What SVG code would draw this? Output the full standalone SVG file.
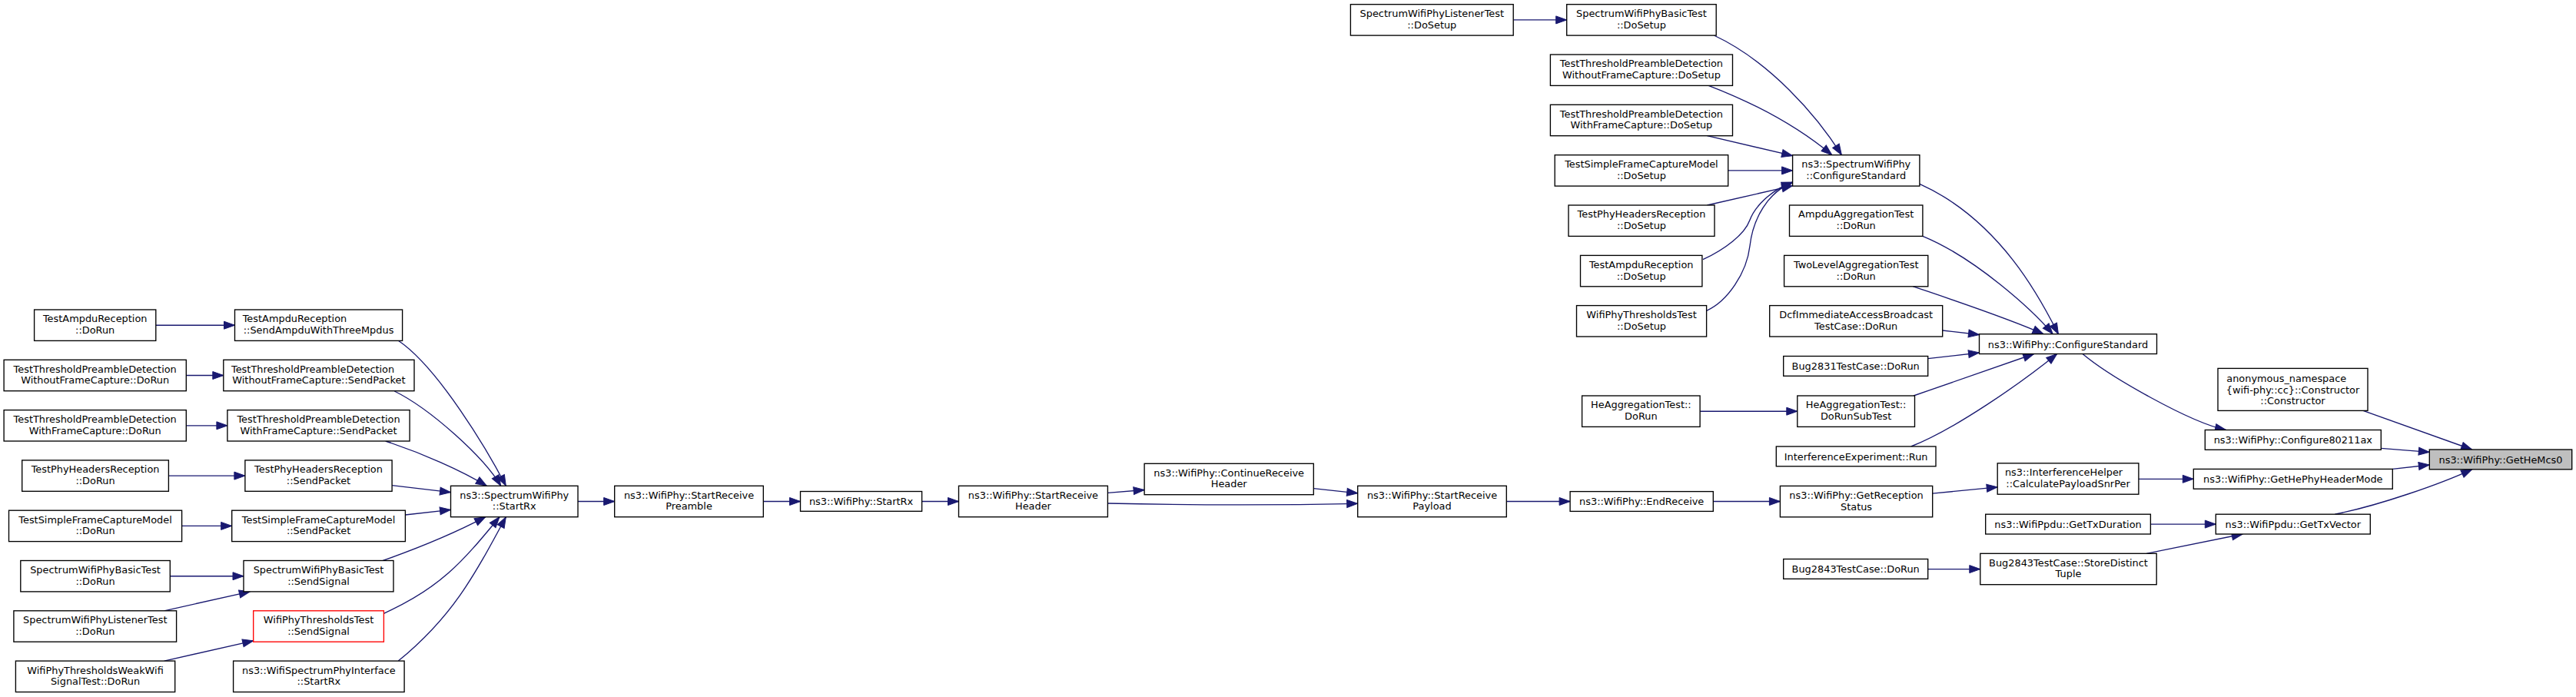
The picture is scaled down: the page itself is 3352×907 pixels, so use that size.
<svg xmlns="http://www.w3.org/2000/svg" width="3352" height="907" viewBox="0 0 3352 907">
<style>
.n rect{fill:#fff;stroke:#000;stroke-width:1.35}
.n text{font-family:"DejaVu Sans",sans-serif;font-size:12.9px;fill:#000;text-anchor:middle}
.n text.l{text-anchor:start}
#n15 rect{stroke:#f00}
#n27 rect{fill:#bfbfbf}
.e path{fill:none;stroke:#191970;stroke-width:1.35;marker-end:url(#ah)}
</style>
<defs>
<marker id="ah" markerUnits="userSpaceOnUse" markerWidth="16" markerHeight="12" viewBox="-1 -1 16 12" refX="14" refY="5" orient="auto">
<path d="M0,0 L14,5 L0,10 z" fill="#191970" stroke="#191970" stroke-width="1"/>
</marker>
</defs>
<rect width="3352" height="907" fill="#fff"/>
<g id="edges" class="e">
<path d="M202.8,423.2 L305.5,423.2"/>
<path d="M242.3,488.5 L290.8,488.5"/>
<path d="M242.3,553.8 L295.9,553.8"/>
<path d="M219.4,619.1 L318.9,619.1"/>
<path d="M236.6,684.4 L301.7,684.4"/>
<path d="M221.3,749.7 L317,749.7"/>
<path d="M213.7,794.8 L325.3,769.9"/>
<path d="M213.7,860.1 L329.7,833.8"/>
<path d="M518.3,443.3 C570,478 635,587 658.3,632.3"/>
<path d="M513.3,509 C560,532 630,595 651.7,632.3"/>
<path d="M501.7,574 C550,590 600,612 633.3,632.3"/>
<path d="M510.1,631.7 L586.5,640.7"/>
<path d="M527.4,670 L586.5,663.3"/>
<path d="M498.3,729.5 C545,713 595,692 631.7,672.7"/>
<path d="M499.4,798.3 C572.8,764.7 599.6,733.9 650,672.7"/>
<path d="M518.3,860.1 C588,803.1 616,751.5 658.3,672.7"/>
<path d="M752,652.5 L799.7,652.5"/>
<path d="M993.3,652.5 L1041.5,652.5"/>
<path d="M1199.6,652.5 L1247.5,652.5"/>
<path d="M1441.4,641.3 L1489.1,637.5"/>
<path d="M1441.4,655 C1560,657.5 1660,657.5 1766.7,655.3"/>
<path d="M1709.3,635.7 L1766.7,641.8"/>
<path d="M1960.3,652.5 L2043.1,652.5"/>
<path d="M2229.3,652.5 L2316.4,652.5"/>
<path d="M2514.7,642.2 L2599.2,633.8"/>
<path d="M2782.9,623.3 L2854.3,623.3"/>
<path d="M3113.3,610.4 L3161.3,605"/>
<path d="M3098.3,583.3 L3161.3,588.3"/>
<path d="M3075,534.4 L3216.7,585"/>
<path d="M3038.3,669.2 C3095,658 3175,630 3216.7,610.8"/>
<path d="M2710,460.5 C2745,490 2850,550 2896.5,559.5"/>
<path d="M2798.4,682.1 L2883.3,682.1"/>
<path d="M2793.2,720.3 L2918.2,695"/>
<path d="M2508.7,740.6 L2576.8,740.6"/>
<path d="M2497.9,239.3 C2606.9,288.5 2660.4,399.4 2678.4,434.7"/>
<path d="M2501.9,307.3 C2571,335.8 2645.6,404.2 2671.2,434.7"/>
<path d="M2489.2,372.7 C2540,390 2610,413 2659,434.7"/>
<path d="M2527.7,430 L2575.5,435.5"/>
<path d="M2508.7,466.7 L2575.5,459"/>
<path d="M2490,515 L2646.7,460.5"/>
<path d="M2486.7,581 C2543.1,559 2629.3,498.9 2676.7,460.5"/>
<path d="M2212.1,535.2 L2338.8,535.2"/>
<path d="M1969.2,25.9 L2038.7,25.9"/>
<path d="M2230.3,46 C2302.8,79.8 2364.6,150.7 2396.4,201.7"/>
<path d="M2223.2,111.3 C2288.7,136.5 2344.6,169 2383.9,201.7"/>
<path d="M2221.4,176.7 L2332.6,202.7"/>
<path d="M2248.7,221.9 L2332.6,221.9"/>
<path d="M2221.4,267 L2332.6,241.7"/>
<path d="M2216,337.7 C2245,324 2270,305 2276.8,286.7 C2283.6,268.4 2304.1,247.8 2332.6,237"/>
<path d="M2220.7,404.3 C2248,392 2273,355 2277,320 C2281,285 2300,250 2332.6,237.5"/>
</g>
<g id="n1" class="n"><rect x="44.6" y="403" width="158.2" height="40.4"/><text x="123.7" y="419.4">TestAmpduReception</text><text x="123.7" y="434.1">::DoRun</text></g>
<g id="n2" class="n"><rect x="5.1" y="468.3" width="237.2" height="40.4"/><text x="123.7" y="484.7">TestThresholdPreambleDetection</text><text x="123.7" y="499.4">WithoutFrameCapture::DoRun</text></g>
<g id="n3" class="n"><rect x="5.1" y="533.6" width="237.2" height="40.4"/><text x="123.7" y="550">TestThresholdPreambleDetection</text><text x="123.7" y="564.7">WithFrameCapture::DoRun</text></g>
<g id="n4" class="n"><rect x="28.7" y="598.9" width="190.7" height="40.4"/><text x="124.05" y="615.3">TestPhyHeadersReception</text><text x="124.05" y="630">::DoRun</text></g>
<g id="n5" class="n"><rect x="11.5" y="664.2" width="225.1" height="40.4"/><text x="124.05" y="680.6">TestSimpleFrameCaptureModel</text><text x="124.05" y="695.3">::DoRun</text></g>
<g id="n6" class="n"><rect x="26.8" y="729.5" width="194.5" height="40.4"/><text x="124.05" y="745.9">SpectrumWifiPhyBasicTest</text><text x="124.05" y="760.6">::DoRun</text></g>
<g id="n7" class="n"><rect x="17.9" y="794.8" width="211.7" height="40.4"/><text x="123.75" y="811.2">SpectrumWifiPhyListenerTest</text><text x="123.75" y="825.9">::DoRun</text></g>
<g id="n8" class="n"><rect x="20.4" y="860.1" width="207.3" height="40.4"/><text x="124.05" y="876.5">WifiPhyThresholdsWeakWifi</text><text x="124.05" y="891.2">SignalTest::DoRun</text></g>
<g id="n9" class="n"><rect x="305.5" y="403" width="218.1" height="40.4"/><text class="l" x="315.7" y="419.4">TestAmpduReception</text><text x="414.55" y="434.1">::SendAmpduWithThreeMpdus</text></g>
<g id="n10" class="n"><rect x="290.8" y="468.3" width="248.2" height="40.4"/><text class="l" x="301" y="484.7">TestThresholdPreambleDetection</text><text x="414.9" y="499.4">WithoutFrameCapture::SendPacket</text></g>
<g id="n11" class="n"><rect x="295.9" y="533.6" width="237.2" height="40.4"/><text x="414.5" y="550">TestThresholdPreambleDetection</text><text x="414.5" y="564.7">WithFrameCapture::SendPacket</text></g>
<g id="n12" class="n"><rect x="318.9" y="598.9" width="191.2" height="40.4"/><text x="414.5" y="615.3">TestPhyHeadersReception</text><text x="414.5" y="630">::SendPacket</text></g>
<g id="n13" class="n"><rect x="301.7" y="664.2" width="225.7" height="40.4"/><text x="414.55" y="680.6">TestSimpleFrameCaptureModel</text><text x="414.55" y="695.3">::SendPacket</text></g>
<g id="n14" class="n"><rect x="317" y="729.5" width="195" height="40.4"/><text x="414.5" y="745.9">SpectrumWifiPhyBasicTest</text><text x="414.5" y="760.6">::SendSignal</text></g>
<g id="n15" class="n"><rect x="329.7" y="794.8" width="169.7" height="40.4"/><text x="414.55" y="811.2">WifiPhyThresholdsTest</text><text x="414.55" y="825.9">::SendSignal</text></g>
<g id="n16" class="n"><rect x="303.6" y="860.1" width="222.5" height="40.4"/><text x="414.85" y="876.5">ns3::WifiSpectrumPhyInterface</text><text x="414.85" y="891.2">::StartRx</text></g>
<g id="n17" class="n"><rect x="586.5" y="632.3" width="165.5" height="40.4"/><text x="669.25" y="648.7">ns3::SpectrumWifiPhy</text><text x="669.25" y="663.4">::StartRx</text></g>
<g id="n18" class="n"><rect x="799.7" y="632.3" width="193.6" height="40.4"/><text x="896.5" y="648.7">ns3::WifiPhy::StartReceive</text><text x="896.5" y="663.4">Preamble</text></g>
<g id="n19" class="n"><rect x="1041.5" y="639.5" width="158.1" height="25.8"/><text x="1120.55" y="657.3">ns3::WifiPhy::StartRx</text></g>
<g id="n20" class="n"><rect x="1247.5" y="632.3" width="193.9" height="40.4"/><text x="1344.45" y="648.7">ns3::WifiPhy::StartReceive</text><text x="1344.45" y="663.4">Header</text></g>
<g id="n21" class="n"><rect x="1489.1" y="603.3" width="220.2" height="40.4"/><text x="1599.2" y="619.7">ns3::WifiPhy::ContinueReceive</text><text x="1599.2" y="634.4">Header</text></g>
<g id="n22" class="n"><rect x="1766.7" y="632.3" width="193.6" height="40.4"/><text x="1863.5" y="648.7">ns3::WifiPhy::StartReceive</text><text x="1863.5" y="663.4">Payload</text></g>
<g id="n23" class="n"><rect x="2043.1" y="639.6" width="186.2" height="25.8"/><text x="2136.2" y="657.4">ns3::WifiPhy::EndReceive</text></g>
<g id="n24" class="n"><rect x="2316.4" y="632.4" width="198.3" height="40.4"/><text x="2415.55" y="648.8">ns3::WifiPhy::GetReception</text><text x="2415.55" y="663.5">Status</text></g>
<g id="n25" class="n"><rect x="2599.2" y="602.8" width="183.7" height="40.4"/><text class="l" x="2608.9" y="619.2">ns3::InterferenceHelper</text><text x="2691.05" y="633.9">::CalculatePayloadSnrPer</text></g>
<g id="n26" class="n"><rect x="2854.3" y="610.4" width="259" height="25.8"/><text x="2983.8" y="628.2">ns3::WifiPhy::GetHePhyHeaderMode</text></g>
<g id="n27" class="n"><rect x="3161.3" y="585" width="185.4" height="25.8"/><text x="3254" y="602.8">ns3::WifiPhy::GetHeMcs0</text></g>
<g id="n28" class="n"><rect x="2869.3" y="559.5" width="229" height="25.8"/><text x="2983.8" y="577.3">ns3::WifiPhy::Configure80211ax</text></g>
<g id="n29" class="n"><rect x="2886" y="479.4" width="195" height="55"/><text class="l" x="2897.3" y="496.8">anonymous_namespace</text><text x="2983.5" y="511.5">{wifi-phy::cc}::Constructor</text><text x="2983.5" y="526.2">::Constructor</text></g>
<g id="n30" class="n"><rect x="2883.3" y="669.2" width="201" height="25.8"/><text x="2983.8" y="687">ns3::WifiPpdu::GetTxVector</text></g>
<g id="n31" class="n"><rect x="2583.7" y="669.2" width="214.7" height="25.8"/><text x="2691.05" y="687">ns3::WifiPpdu::GetTxDuration</text></g>
<g id="n32" class="n"><rect x="2576.8" y="720.3" width="229.4" height="40.4"/><text x="2691.5" y="736.7">Bug2843TestCase::StoreDistinct</text><text x="2691.5" y="751.4">Tuple</text></g>
<g id="n33" class="n"><rect x="2320.7" y="727.5" width="188" height="25.8"/><text x="2414.7" y="745.3">Bug2843TestCase::DoRun</text></g>
<g id="n34" class="n"><rect x="2575.5" y="434.7" width="231" height="25.8"/><text x="2691" y="452.5">ns3::WifiPhy::ConfigureStandard</text></g>
<g id="n35" class="n"><rect x="2320.7" y="463.5" width="188" height="25.8"/><text x="2414.7" y="481.3">Bug2831TestCase::DoRun</text></g>
<g id="n36" class="n"><rect x="2338.8" y="515" width="152.7" height="40.4"/><text x="2415.15" y="531.4">HeAggregationTest::</text><text x="2415.15" y="546.1">DoRunSubTest</text></g>
<g id="n37" class="n"><rect x="2058.6" y="515" width="153.5" height="40.4"/><text x="2135.35" y="531.4">HeAggregationTest::</text><text x="2135.35" y="546.1">DoRun</text></g>
<g id="n38" class="n"><rect x="2311.3" y="581" width="207.7" height="25.8"/><text x="2415.15" y="598.8">InterferenceExperiment::Run</text></g>
<g id="n39" class="n"><rect x="2302.7" y="397.6" width="225" height="40.4"/><text x="2415.2" y="414">DcfImmediateAccessBroadcast</text><text x="2415.2" y="428.7">TestCase::DoRun</text></g>
<g id="n40" class="n"><rect x="2321.6" y="332.4" width="187.2" height="40.4"/><text x="2415.2" y="348.8">TwoLevelAggregationTest</text><text x="2415.2" y="363.5">::DoRun</text></g>
<g id="n41" class="n"><rect x="2328.5" y="267" width="173.4" height="40.4"/><text x="2415.2" y="283.4">AmpduAggregationTest</text><text x="2415.2" y="298.1">::DoRun</text></g>
<g id="n42" class="n"><rect x="2332.6" y="201.7" width="165.3" height="40.4"/><text x="2415.25" y="218.1">ns3::SpectrumWifiPhy</text><text x="2415.25" y="232.8">::ConfigureStandard</text></g>
<g id="n43" class="n"><rect x="2051.5" y="397.6" width="169.1" height="40.4"/><text x="2136.05" y="414">WifiPhyThresholdsTest</text><text x="2136.05" y="428.7">::DoSetup</text></g>
<g id="n44" class="n"><rect x="2056.5" y="332.4" width="158.4" height="40.4"/><text x="2135.7" y="348.8">TestAmpduReception</text><text x="2135.7" y="363.5">::DoSetup</text></g>
<g id="n45" class="n"><rect x="2041" y="267" width="190" height="40.4"/><text x="2136" y="283.4">TestPhyHeadersReception</text><text x="2136" y="298.1">::DoSetup</text></g>
<g id="n46" class="n"><rect x="2023.2" y="201.7" width="225.5" height="40.4"/><text x="2135.95" y="218.1">TestSimpleFrameCaptureModel</text><text x="2135.95" y="232.8">::DoSetup</text></g>
<g id="n47" class="n"><rect x="2017.4" y="136.3" width="237.1" height="40.4"/><text x="2135.95" y="152.7">TestThresholdPreambleDetection</text><text x="2135.95" y="167.4">WithFrameCapture::DoSetup</text></g>
<g id="n48" class="n"><rect x="2017.4" y="71" width="237.1" height="40.4"/><text x="2135.95" y="87.4">TestThresholdPreambleDetection</text><text x="2135.95" y="102.1">WithoutFrameCapture::DoSetup</text></g>
<g id="n49" class="n"><rect x="2038.7" y="5.7" width="194.5" height="40.4"/><text x="2135.95" y="22.1">SpectrumWifiPhyBasicTest</text><text x="2135.95" y="36.8">::DoSetup</text></g>
<g id="n50" class="n"><rect x="1757.4" y="5.7" width="211.8" height="40.4"/><text x="1863.3" y="22.1">SpectrumWifiPhyListenerTest</text><text x="1863.3" y="36.8">::DoSetup</text></g>
</svg>
